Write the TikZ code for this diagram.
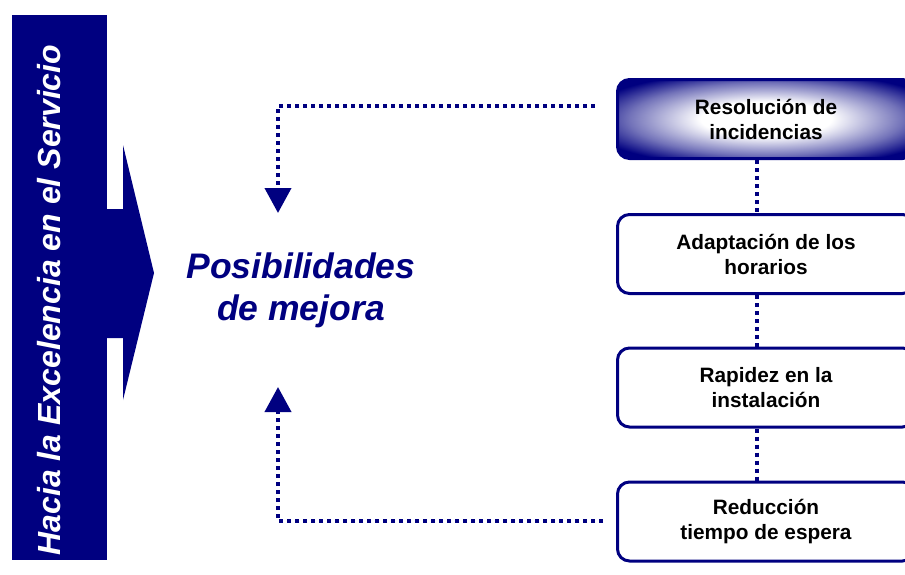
\documentclass[tikz,border=0pt]{standalone}
\usepackage{fontspec}
\setmainfont{Liberation Sans}
\usetikzlibrary{arrows.meta}
\definecolor{marino}{RGB}{0,0,128}
\pgfdeclareradialshading{halo}{\pgfpoint{0bp}{0bp}}{color(0bp)=(white); color(11bp)=(white); color(23bp)=(marino!55); color(31bp)=(marino); color(50bp)=(marino)}

\begin{document}
\begin{tikzpicture}[x=1pt, y=-1pt]
        \tikzstyle{caja}=[rectangle, rounded corners=12pt, draw=marino, line width=3pt, fill=white,
            minimum width=297pt, minimum height=79pt, align=center, font=\bfseries\fontsize{20.8}{25}\selectfont]
        \tikzstyle{puntos}=[draw=marino, line width=4pt, dash pattern=on 4pt off 4pt]
        \tikzstyle{retro}=[puntos, -{Triangle[width=26pt, length=25pt]}, marino]

        \useasboundingbox (0,0) rectangle (905,574);

        % banda lateral y flecha
        \fill[marino] (12,15) rectangle (107,560);
        \fill[marino] (106,209) -- (123,209) -- (123,145) -- (154,273) -- (123,400) -- (123,338) -- (106,338) -- cycle;
        \node[rotate=90, text=white, font=\bfseries\itshape\fontsize{32}{32}\selectfont] (titulo) at (49,300) {Hacia la Excelencia en el Servicio};

        \node[text=marino, align=center, font=\bfseries\itshape\fontsize{35.5}{42}\selectfont] (mejora) at (301,290) {Posibilidades\\de mejora};

        \node[caja, shading=halo] (c1) at (766,119) {Resolución de\\incidencias};
        \node[caja] (c2) at (766,254) {Adaptación de los\\horarios};
        \node[caja] (c3) at (766,387.5) {Rapidez en la\\instalación};
        \node[caja] (c4) at (766,521.5) {Reducción\\tiempo de espera};

        \draw[puntos] ([xshift=-9pt]c1.south) -- ([xshift=-9pt]c2.north);
        \draw[puntos] ([xshift=-9pt]c2.south) -- ([xshift=-9pt]c3.north);
        \draw[puntos] ([xshift=-9pt]c3.south) -- ([xshift=-9pt]c4.north);

        \coordinate (s1) at (595,106);
        \coordinate (p1) at (278,213);
        \coordinate (s2) at (603,521);
        \coordinate (p2) at (278,387);
        \draw[retro] (s1) -| (p1);
        \draw[retro] (s2) -| (p2);
    \end{tikzpicture}
\end{document}
